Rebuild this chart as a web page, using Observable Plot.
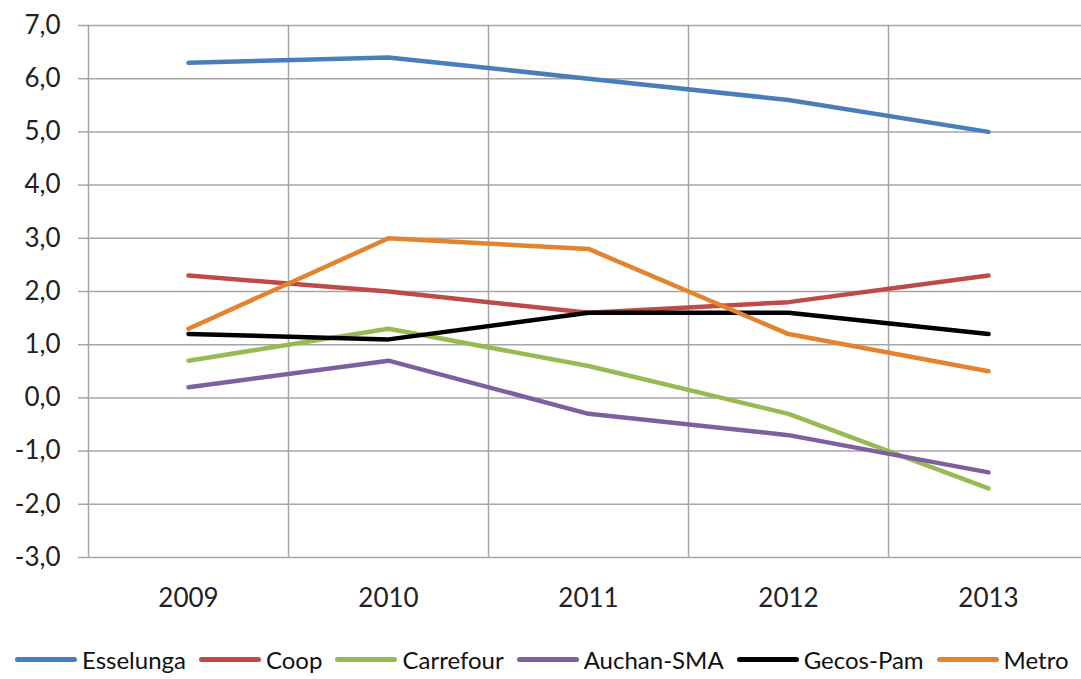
<!DOCTYPE html>
<html><head><meta charset="utf-8">
<script src="https://cdn.jsdelivr.net/npm/d3@7"></script>
<script src="https://cdn.jsdelivr.net/npm/@observablehq/plot@0.6"></script>
<style>
body{margin:0;background:#fff;font-family:Lato,sans-serif;}
#legend{display:flex;align-items:center;padding-left:15px;height:39px;font-size:24px;color:#111;white-space:nowrap}
.item{display:flex;align-items:center;margin-right:13px}
.sw{width:62px;height:5px;border-radius:3px;margin-right:5px}
</style></head><body><div id="chart"></div><div id="legend"></div>
<script>
const years = [2009, 2010, 2011, 2012, 2013];
const series = ["Esselunga", "Coop", "Carrefour", "Auchan-SMA", "Gecos-Pam", "Metro"];
const colors = ["#4A7EBB", "#BE4B48", "#98B954", "#7D60A0", "#000000", "#E3832F"];
const esselunga = [6.3, 6.4, 6.0, 5.6, 5.0];
const coop = [2.3, 2.0, 1.6, 1.8, 2.3];
const carrefour = [0.7, 1.3, 0.6, -0.3, -1.7];
const auchan = [0.2, 0.7, -0.3, -0.7, -1.4];
const gecos = [1.2, 1.1, 1.6, 1.6, 1.2];
const metro = [1.3, 3.0, 2.8, 1.2, 0.5];
const yTicks = [-3, -2, -1, 0, 1, 2, 3, 4, 5, 6, 7];
const yLabels = ["-3,0", "-2,0", "-1,0", "0,0", "1,0", "2,0", "3,0", "4,0", "5,0", "6,0", "7,0"];
const xLabels = ["2009", "2010", "2011", "2012", "2013"];

const values = [esselunga, coop, carrefour, auchan, gecos, metro];
const data = series.flatMap((s, i) => years.map((y, j) => ({series: s, year: y, value: values[i][j]})));
const bounds = years.map(y => y - 0.5);
const grid = "#a6a6a6";

const chart = Plot.plot({
  width: 1081, height: 640,
  marginTop: 25, marginBottom: 83, marginLeft: 88, marginRight: 0,
  style: {fontFamily: "Lato, sans-serif", background: "white", color: "#222"},
  x: {domain: [years[0] - 0.5, years[years.length - 1] + 0.5], range: [88, 1088], label: null},
  y: {domain: [yTicks[0], yTicks[yTicks.length - 1]], label: null},
  color: {domain: series, range: colors},
  marks: [
    Plot.gridY(yTicks, {stroke: grid, strokeOpacity: 1, strokeWidth: 1.5}),
    Plot.gridX(bounds, {stroke: grid, strokeOpacity: 1, strokeWidth: 1.5}),
    Plot.axisY(yTicks, {tickSize: 10, tickPadding: 18, stroke: grid, strokeWidth: 1.5, fill: "#222", fontSize: 26,
      tickFormat: d => yLabels[yTicks.indexOf(d)], label: null}),
    Plot.axisX(years, {tickSize: 0, tickPadding: 31, fill: "#222", fontSize: 26,
      tickFormat: d => xLabels[years.indexOf(d)], label: null}),
    Plot.line(data, {x: "year", y: "value", z: "series", stroke: "series",
      strokeWidth: 4.5, strokeLinecap: "round", strokeLinejoin: "round"})
  ]
});
document.getElementById("chart").appendChild(chart);

const legend = document.getElementById("legend");
series.forEach((s, i) => {
  const item = document.createElement("div");
  item.className = "item";
  const sw = document.createElement("span");
  sw.className = "sw";
  sw.style.background = colors[i];
  const t = document.createElement("span");
  t.textContent = s;
  item.appendChild(sw);
  item.appendChild(t);
  legend.appendChild(item);
});
</script>
</body></html>
